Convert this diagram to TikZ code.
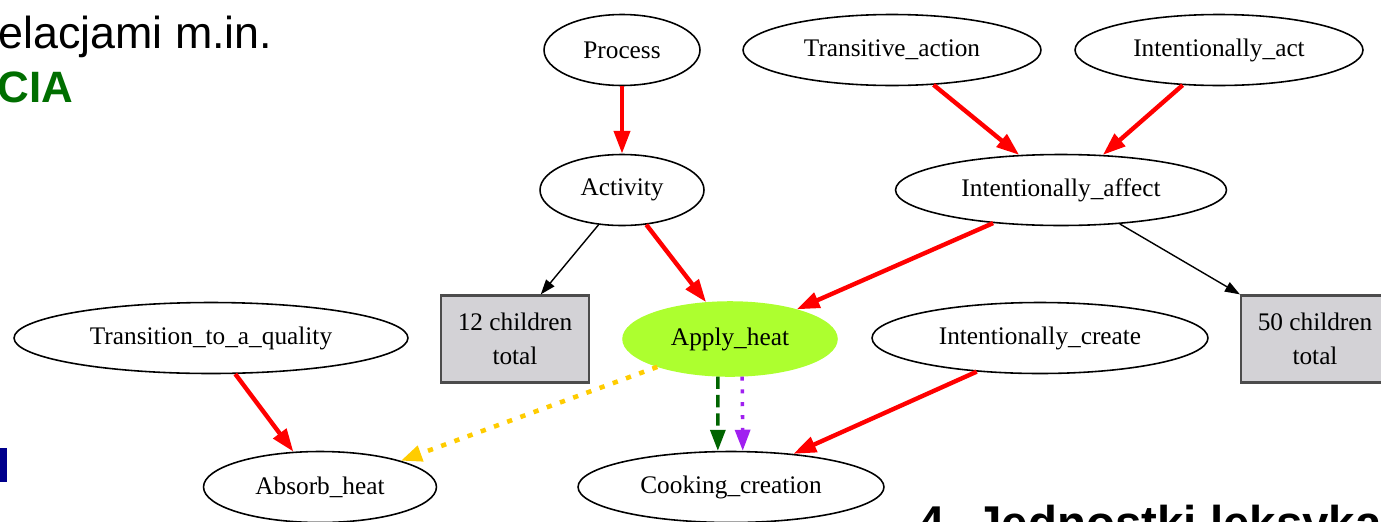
\documentclass[tikz,border=0pt]{standalone}
\usepackage{fontspec}
\setmainfont{Liberation Serif}
\newfontfamily\slidefont{Liberation Sans}
\usetikzlibrary{arrows.meta,shapes.geometric}
\definecolor{inhred}{RGB}{255,0,0}
\definecolor{gold}{RGB}{255,204,0}
\definecolor{dgreen}{RGB}{0,100,0}
\definecolor{purp}{RGB}{160,32,240}
\definecolor{gyellow}{RGB}{173,255,47}
\definecolor{lgray}{RGB}{211,210,214}
\definecolor{slgreen}{RGB}{0,110,0}
\definecolor{slnavy}{RGB}{0,0,140}

\begin{document}
\begin{tikzpicture}[x=0.02cm, y=-0.02cm,
  frame/.style={ellipse, draw=black, line width=0.9pt, inner sep=0pt, minimum height=1.42cm, font=\fontsize{14.4}{17}\selectfont},
  count/.style={rectangle, draw=black!70, line width=1.3pt, fill=lgray, inner sep=0pt, minimum width=2.96cm, minimum height=1.74cm, align=center, font=\fontsize{14.4}{19}\selectfont},
  inh/.style={-{Triangle[length=13pt, width=9pt]}, line width=2.5pt, color=inhred},
  sub/.style={-{Triangle[length=8.5pt, width=6pt]}, line width=0.8pt, color=black},
  caus/.style={-{Triangle[length=12pt, width=9pt]}, line width=2.6pt, color=gold, dash pattern=on 3pt off 5pt},
  uses/.style={-{Triangle[length=12pt, width=8.5pt]}, line width=2pt, color=dgreen, dash pattern=on 7pt off 3.5pt},
  persp/.style={-{Triangle[length=12pt, width=8.5pt]}, line width=2pt, color=purp, dash pattern=on 2.3pt off 5pt},
  slide/.style={anchor=base west, inner sep=0pt, font=\slidefont\fontsize{25.5}{30}\selectfont}
]
\useasboundingbox (0,0) rectangle (1381,521);
\clip (0,0) rectangle (1381,521);
% slide text behind the graph
\node[slide] (rel) at (-2,48) {elacjami m.in.};
\node[slide, text=slgreen, font=\slidefont\bfseries\fontsize{25}{30}\selectfont] (cia) at (-3,102) {CIA};
\node[slide, font=\slidefont\bfseries\fontsize{27}{32}\selectfont] (jl) at (918,539) {4. Jednostki leksykal};
\fill[slnavy] (0,448) rectangle (7,482);
% frames, top row
\node[frame, minimum width=3.12cm] (proc) at (622,50) {Process};
\node[frame, minimum width=5.96cm] (tact) at (892,50) {Transitive\_action};
\node[frame, minimum width=5.76cm] (iact) at (1219,50) {Intentionally\_act};
% second row
\node[frame, minimum width=3.28cm] (actv) at (622,190) {Activity};
\node[frame, minimum width=6.62cm] (iaff) at (1061,190) {Intentionally\_affect};
% third row
\node[frame, minimum width=7.88cm] (tq) at (211,338) {Transition\_to\_a\_quality};
\node[count] (c12) at (515,339) {12 children\\total};
\node[frame, fill=gyellow, draw=gyellow, minimum width=4.28cm, minimum height=1.48cm] (heat) at (730,339) {Apply\_heat};
\node[frame, minimum width=6.72cm] (icre) at (1040,338) {Intentionally\_create};
\node[count] (c50) at (1315,339) {50 children\\total};
% bottom row
\node[frame, minimum width=4.66cm] (abs) at (320,487) {Absorb\_heat};
\node[frame, minimum width=6.12cm] (cook) at (731,487) {Cooking\_creation};
% inheritance
\draw[inh] (proc.south) -- (actv.north);
\draw[inh] (tact.-40.7) -- (iaff.140.9);
\draw[inh] (iact.-136.5) -- (iaff.40.5);
\draw[inh] (actv.-55.2) -- (heat.123.7);
\draw[inh] (iaff.-154.4) -- (heat.24);
\draw[inh] (tq.-56.3) -- (abs.127.4);
\draw[inh] (icre.-152.8) -- (cook.28);
% children counts
\draw[sub] (actv.-124.8) -- (c12.60);
\draw[sub] (iaff.-30.7) -- (c50.north west);
% other relations
\draw[caus] (heat.-159.7) -- (abs.18.9);
\draw[uses] (heat.-108) -- (cook.110.4);
\draw[persp] (heat.-72) -- (cook.72.6);
\end{tikzpicture}
\end{document}
